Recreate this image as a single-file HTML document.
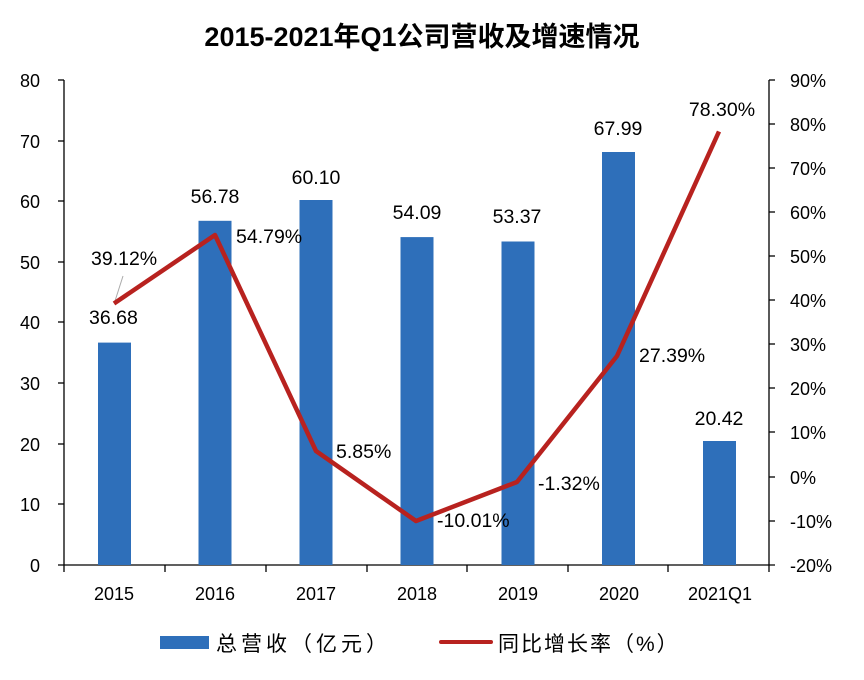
<!DOCTYPE html>
<html><head><meta charset="utf-8"><style>
body{margin:0;background:#fff;}
svg text{font-family:"Liberation Sans","Noto Sans CJK SC",sans-serif;fill:#000;}
</style></head><body>
<svg width="864" height="675" xmlns="http://www.w3.org/2000/svg">
<rect width="864" height="675" fill="#fff"/>
<text x="422" y="46" font-size="27" font-weight="bold" text-anchor="middle">2015-2021年Q1公司营收及增速情况</text>
<g stroke="#000" stroke-width="1.3">
<line x1="64" y1="80" x2="64" y2="572"/>
<line x1="769" y1="80" x2="769" y2="572"/>
<line x1="58" y1="565" x2="775" y2="565"/>
</g>
<g stroke="#000" stroke-width="1.3">
<line x1="58" y1="80" x2="64" y2="80"/><line x1="58" y1="141" x2="64" y2="141"/><line x1="58" y1="201" x2="64" y2="201"/><line x1="58" y1="262" x2="64" y2="262"/><line x1="58" y1="322" x2="64" y2="322"/><line x1="58" y1="383" x2="64" y2="383"/><line x1="58" y1="444" x2="64" y2="444"/><line x1="58" y1="504" x2="64" y2="504"/>
<line x1="769" y1="80" x2="775" y2="80"/><line x1="769" y1="124" x2="775" y2="124"/><line x1="769" y1="168" x2="775" y2="168"/><line x1="769" y1="212" x2="775" y2="212"/><line x1="769" y1="256" x2="775" y2="256"/><line x1="769" y1="300" x2="775" y2="300"/><line x1="769" y1="344" x2="775" y2="344"/><line x1="769" y1="388" x2="775" y2="388"/><line x1="769" y1="432" x2="775" y2="432"/><line x1="769" y1="477" x2="775" y2="477"/><line x1="769" y1="521" x2="775" y2="521"/>
<line x1="165" y1="565" x2="165" y2="572"/><line x1="266" y1="565" x2="266" y2="572"/><line x1="367" y1="565" x2="367" y2="572"/><line x1="467" y1="565" x2="467" y2="572"/><line x1="568" y1="565" x2="568" y2="572"/><line x1="668" y1="565" x2="668" y2="572"/>
</g>
<g font-size="18" text-anchor="end">
<text x="40" y="87">80</text><text x="40" y="148">70</text><text x="40" y="208">60</text><text x="40" y="269">50</text><text x="40" y="329">40</text><text x="40" y="390">30</text><text x="40" y="451">20</text><text x="40" y="511">10</text><text x="40" y="572">0</text>
</g>
<g font-size="18" text-anchor="start">
<text x="790" y="87">90%</text><text x="790" y="131">80%</text><text x="790" y="175">70%</text><text x="790" y="219">60%</text><text x="790" y="263">50%</text><text x="790" y="307">40%</text><text x="790" y="351">30%</text><text x="790" y="395">20%</text><text x="790" y="439">10%</text><text x="790" y="484">0%</text><text x="790" y="528">-10%</text><text x="790" y="572">-20%</text>
</g>
<g font-size="18" text-anchor="middle">
<text x="114" y="600">2015</text><text x="215" y="600">2016</text><text x="316" y="600">2017</text><text x="417" y="600">2018</text><text x="518" y="600">2019</text><text x="619" y="600">2020</text><text x="720" y="600">2021Q1</text>
</g>
<g fill="#2e6fba">
<rect x="98" y="342.6" width="33" height="222.4"/>
<rect x="198.5" y="220.8" width="33" height="344.2"/>
<rect x="299.5" y="200" width="33" height="365"/>
<rect x="400.5" y="237.1" width="33" height="327.9"/>
<rect x="501.5" y="241.5" width="33" height="323.5"/>
<rect x="602" y="152" width="33" height="413"/>
<rect x="703" y="441" width="33" height="124"/>
</g>
<line x1="123" y1="276" x2="115" y2="301" stroke="#aaa" stroke-width="1"/>
<polyline points="114,303.5 215,235 316,451 416,521 517,482 617,356 719,131.5" fill="none" stroke="#b8221f" stroke-width="4.5" stroke-linejoin="round"/>
<g font-size="19.5">
<text x="91" y="265">39.12%</text>
<text x="89" y="324">36.68</text>
<text x="215" y="203" text-anchor="middle">56.78</text>
<text x="236" y="243">54.79%</text>
<text x="316" y="184" text-anchor="middle">60.10</text>
<text x="336" y="458">5.85%</text>
<text x="417" y="219" text-anchor="middle">54.09</text>
<text x="437" y="527">-10.01%</text>
<text x="517" y="223" text-anchor="middle">53.37</text>
<text x="538" y="490">-1.32%</text>
<text x="618" y="135" text-anchor="middle">67.99</text>
<text x="639" y="362">27.39%</text>
<text x="722" y="116" text-anchor="middle">78.30%</text>
<text x="719" y="425" text-anchor="middle">20.42</text>
</g>
<rect x="160" y="636" width="49" height="13" fill="#2e6fba"/>
<text x="216" y="651" font-size="21" letter-spacing="4">总营收（亿元）</text>
<line x1="441" y1="642" x2="491" y2="642" stroke="#b8221f" stroke-width="4" stroke-linecap="round"/>
<text x="498" y="651" font-size="21" letter-spacing="2">同比增长率（%）</text>
</svg>
</body></html>
